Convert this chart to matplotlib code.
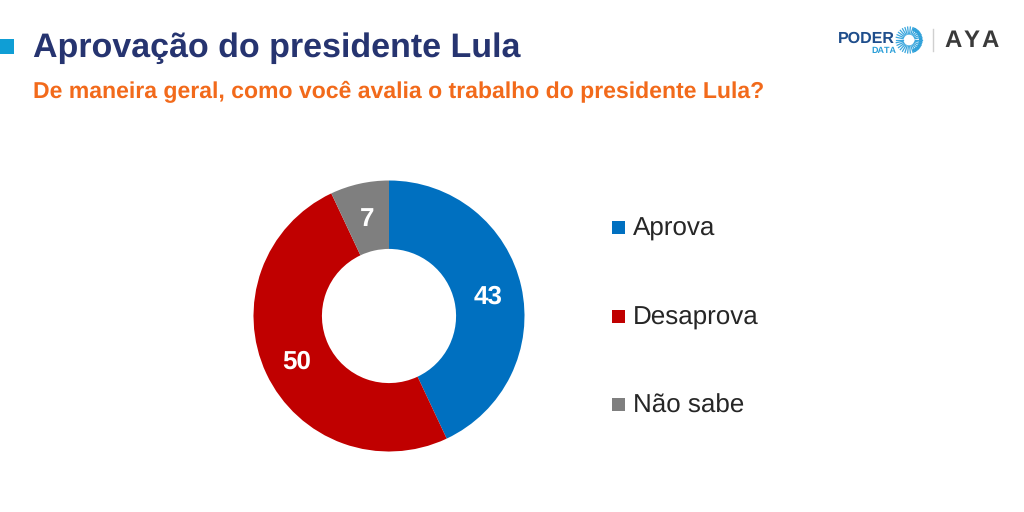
import numpy as np
from matplotlib import pyplot as plt
from matplotlib.patches import Rectangle, Wedge

plt.rcParams['font.family'] = ['Liberation Sans', 'DejaVu Sans']
plt.rcParams['text.hinting'] = 'no_hinting'
plt.rcParams['text.hinting_factor'] = 1

title = 'Aprovação do presidente Lula'
subtitle = 'De maneira geral, como você avalia o trabalho do presidente Lula?'
categories = ['Aprova', 'Desaprova', 'Não sabe']
values = [43, 50, 7]
colors = ['#0070c0', '#c00000', '#7f7f7f']

fig = plt.figure(figsize=(10.24, 5.12), dpi=100, facecolor='white')

# full figure axes in pixels for header, legend and logo
bg = fig.add_axes([0, 0, 1, 1])
bg.set_xlim(0, 1024)
bg.set_ylim(512, 0)
bg.axis('off')

bg.add_patch(Rectangle((0, 39), 14, 15, color='#0f9ed5', lw=0))
bg.text(33, 57, title, fontsize=24.75, fontweight='bold', color='#263470', va='baseline')
bg.text(33, 98, subtitle, fontsize=16.75, fontweight='bold', color='#f26a1b', va='baseline')

# legend
legend_y = [228, 317, 405]
for name, col, y in zip(categories, colors, legend_y):
    bg.add_patch(Rectangle((612, y - 7), 13, 13, color=col, lw=0))
    bg.text(633, y + 8, name, fontsize=18.5, color='#262626', va='baseline')

# logo
bg.text(838, 43, 'PODER', fontsize=11.8, fontweight='bold', color='#1f4e8c', va='baseline')
bg.text(871, 53, 'DATA', fontsize=6.2, fontweight='bold', color='#2b9fd8', va='baseline')
for a in np.arange(0, 360, 12):
    c, s = np.cos(np.radians(a)), np.sin(np.radians(a))
    bg.plot([909 + 6 * c, 909 + 13 * c], [40 + 6 * s, 40 + 13 * s], color='#3aa6dd', lw=0.9)
bg.add_patch(Wedge((909, 40), 13.5, -70, 70, width=3.5, color='#2b9fd8', lw=0))
bg.plot([933, 933], [29, 51], color='#d0d0d0', lw=1)
for x, letter in zip([953, 972, 990], 'AYA'):
    bg.text(x, 47, letter, fontsize=17, fontweight='bold', color='#3a3a3a', va='baseline', ha='center')

# donut
ax = fig.add_axes([(389 - 135.5) / 1024, (512 - 316 - 135.5) / 512, 271 / 1024, 271 / 512])
wedges, texts = ax.pie(values, colors=colors, startangle=90, counterclock=False, radius=1,
                       wedgeprops={'width': 0.505, 'linewidth': 0})
ax.set_xlim(-1, 1)
ax.set_ylim(-1, 1)
for w, v in zip(wedges, values):
    ang = np.radians((w.theta1 + w.theta2) / 2)
    ax.text(0.75 * np.cos(ang), 0.75 * np.sin(ang) - 0.02, str(v), color='white', fontsize=19,
            fontweight='bold', ha='center', va='center')

fig.savefig('out.png', dpi=100)
